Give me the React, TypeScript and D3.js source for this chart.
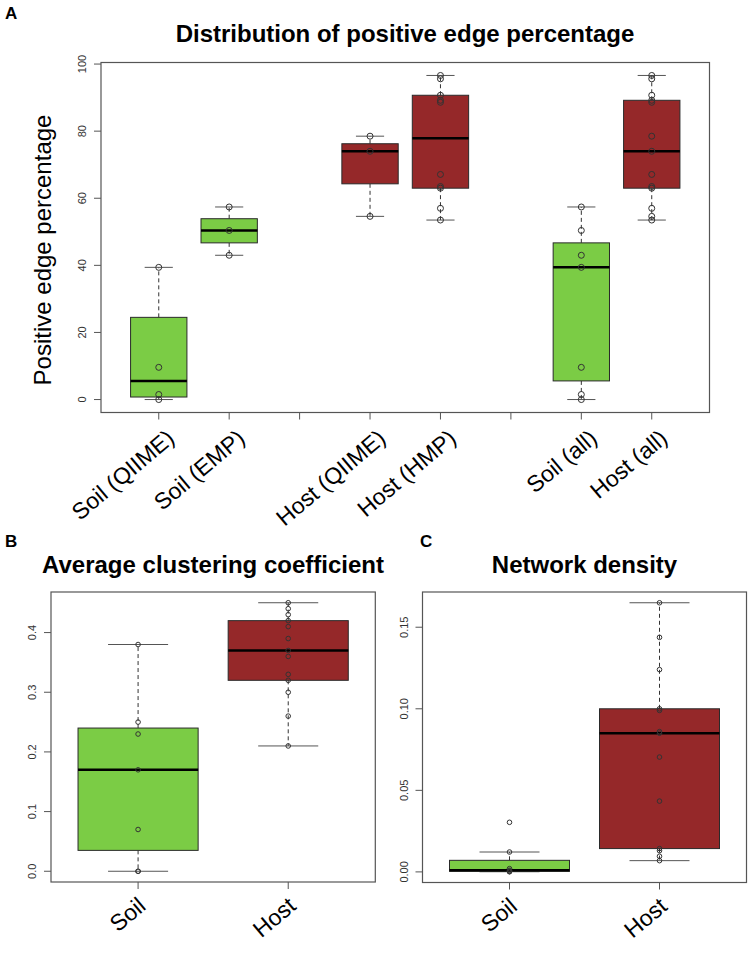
import React from "react";
import * as d3 from "d3";

// ---------- DATA ----------
const soilQiime = [0, 1.5, 9.6, 39.4];
const soilEmp = [43.0, 50.4, 57.4];
const hostQiime = [54.6, 74.0, 78.5];
const hostHmp = [53.5, 57.0, 63.0, 63.5, 67.1, 88.6, 89.2, 90.7, 95.6, 96.6];

const catsA = ["Soil (QIIME)", "Soil (EMP)", "", "Host (QIIME)", "Host (HMP)", "", "Soil (all)", "Host (all)"];
const ticksA = [0, 20, 40, 60, 80, 100];

const clusterSoil = [0, 0, 0.07, 0.17, 0.23, 0.25, 0.38];
const clusterHost = [0.21, 0.26, 0.3, 0.32, 0.33, 0.36, 0.37, 0.39, 0.41, 0.42, 0.43, 0.44, 0.45];
const ticksB = [0, 0.1, 0.2, 0.3, 0.4];

const densitySoil = [0.0001, 0.0002, 0.0005, 0.001, 0.002, 0.0122, 0.0304];
const densityHost = [0.0069, 0.0096, 0.013, 0.0143, 0.0434, 0.0704, 0.085, 0.086, 0.099, 0.1, 0.124, 0.1438, 0.165];
const ticksC = [0, 0.05, 0.1, 0.15];

const catsBC = ["Soil", "Host"];

const GREEN = "#7bcc45";
const RED = "#952829";

type Group = { pos: number; values: number[]; color: string };

function fivenum(v: number[]) {
  const x = [...v].sort((a, b) => a - b);
  const n = x.length;
  const n4 = Math.floor((n + 3) / 2) / 2;
  const d = [1, n4, (n + 1) / 2, n + 1 - n4, n];
  return d.map((di) => 0.5 * (x[Math.floor(di) - 1] + x[Math.ceil(di) - 1]));
}

function boxStats(v: number[]) {
  const f = fivenum(v);
  const iqr = f[3] - f[1];
  const lo = f[1] - 1.5 * iqr;
  const hi = f[3] + 1.5 * iqr;
  const inside = v.filter((d) => d >= lo && d <= hi);
  return {
    lower: f[1],
    median: f[2],
    upper: f[3],
    wlo: d3.min(inside) as number,
    whi: d3.max(inside) as number,
    out: v.filter((d) => d < lo || d > hi),
  };
}

type PanelProps = {
  left: number;
  right: number;
  top: number;
  bottom: number;
  groups: Group[];
  nPos: number;
  labels: string[];
  ticks: number[];
  tickFmt: (d: number) => string;
  r: number;
  labelDx: number;
  labelDy: number;
  labelSize: number;
};

function Panel(p: PanelProps) {
  const all = p.groups.flatMap((g) => g.values);
  const mn = d3.min(all) as number;
  const mx = d3.max(all) as number;
  const pad = (mx - mn) * 0.04;
  const y = d3.scaleLinear().domain([mn - pad, mx + pad]).range([p.bottom, p.top]);
  const xpad = p.nPos * 0.04;
  const x = d3.scaleLinear().domain([0.5 - xpad, p.nPos + 0.5 + xpad]).range([p.left, p.right]);
  const bw = x(1.4) - x(0.6);
  const positions = d3.range(1, p.nPos + 1);
  return (
    <g>
      {p.groups.map((g, i) => {
        const s = boxStats(g.values);
        const cx = x(g.pos);
        return (
          <g key={i}>
            <line x1={cx} x2={cx} y1={y(s.upper)} y2={y(s.whi)} stroke="#333" strokeDasharray="4,3" />
            <line x1={cx} x2={cx} y1={y(s.lower)} y2={y(s.wlo)} stroke="#333" strokeDasharray="4,3" />
            <line x1={cx - bw / 4} x2={cx + bw / 4} y1={y(s.whi)} y2={y(s.whi)} stroke="#555" />
            <line x1={cx - bw / 4} x2={cx + bw / 4} y1={y(s.wlo)} y2={y(s.wlo)} stroke="#555" />
            <rect x={cx - bw / 2} y={y(s.upper)} width={bw} height={y(s.lower) - y(s.upper)} fill={g.color} stroke="#2a2a2a" strokeWidth={1} />
            <line x1={cx - bw / 2} x2={cx + bw / 2} y1={y(s.median)} y2={y(s.median)} stroke="#000" strokeWidth={2.5} />
            {g.values.map((v, j) => (
              <circle key={j} cx={cx} cy={y(v)} r={p.r} fill="none" stroke="#333" strokeWidth={1} />
            ))}
          </g>
        );
      })}
      <rect x={p.left} y={p.top} width={p.right - p.left} height={p.bottom - p.top} fill="none" stroke="#555" strokeWidth={1.2} />
      {p.ticks.map((t) => (
        <g key={t}>
          <line x1={p.left - 7} x2={p.left} y1={y(t)} y2={y(t)} stroke="#555" />
          <text
            transform={`translate(${p.left - 15},${y(t)}) rotate(-90)`}
            textAnchor="middle"
            fontSize={11}
            fill="#333"
          >
            {p.tickFmt(t)}
          </text>
        </g>
      ))}
      {positions.map((ps, i) => (
        <g key={ps}>
          <line x1={x(ps)} x2={x(ps)} y1={p.bottom} y2={p.bottom + 7} stroke="#555" />
          {p.labels[i] ? (
            <text
              transform={`translate(${x(ps) + p.labelDx},${p.bottom + p.labelDy}) rotate(-40)`}
              textAnchor="end"
              dy="0.35em"
              fontSize={p.labelSize}
              fill="#000"
            >
              {p.labels[i]}
            </text>
          ) : null}
        </g>
      ))}
    </g>
  );
}

export default function App() {
  const groupsA: Group[] = [
    { pos: 1, values: soilQiime, color: GREEN },
    { pos: 2, values: soilEmp, color: GREEN },
    { pos: 4, values: hostQiime, color: RED },
    { pos: 5, values: hostHmp, color: RED },
    { pos: 7, values: [...soilQiime, ...soilEmp], color: GREEN },
    { pos: 8, values: [...hostQiime, ...hostHmp], color: RED },
  ];
  const groupsB: Group[] = [
    { pos: 1, values: clusterSoil, color: GREEN },
    { pos: 2, values: clusterHost, color: RED },
  ];
  const groupsC: Group[] = [
    { pos: 1, values: densitySoil, color: GREEN },
    { pos: 2, values: densityHost, color: RED },
  ];
  return (
    <svg
      width={750}
      height={962}
      style={{ position: "absolute", left: 0, top: 0, background: "#fff" }}
      fontFamily="'Liberation Sans', Arial, sans-serif"
    >
      <rect width={750} height={962} fill="#fff" />
      <text x={5} y={19} fontSize={17} fontWeight="bold">A</text>
      <text x={405} y={42} fontSize={24} fontWeight="bold" textAnchor="middle">Distribution of positive edge percentage</text>
      <text transform="translate(51,250) rotate(-90)" fontSize={24} textAnchor="middle">Positive edge percentage</text>
      <Panel
        left={101} right={709.5} top={62.5} bottom={412.5}
        groups={groupsA} nPos={8} labels={catsA} ticks={ticksA}
        tickFmt={(d) => String(d)} r={3} labelDx={12} labelDy={22} labelSize={23}
      />
      <text x={5} y={547} fontSize={17} fontWeight="bold">B</text>
      <text x={213} y={573} fontSize={24} fontWeight="bold" textAnchor="middle">Average clustering coefficient</text>
      <Panel
        left={51} right={375.3} top={592} bottom={882}
        groups={groupsB} nPos={2} labels={catsBC} ticks={ticksB}
        tickFmt={(d) => d3.format(".1f")(d)} r={2.3} labelDx={4} labelDy={20} labelSize={23}
      />
      <text x={420} y={547} fontSize={17} fontWeight="bold">C</text>
      <text x={584.5} y={573} fontSize={24} fontWeight="bold" textAnchor="middle">Network density</text>
      <Panel
        left={422.5} right={746.5} top={592} bottom={882.5}
        groups={groupsC} nPos={2} labels={catsBC} ticks={ticksC}
        tickFmt={(d) => d3.format(".2f")(d)} r={2.3} labelDx={4} labelDy={20} labelSize={23}
      />
    </svg>
  );
}
